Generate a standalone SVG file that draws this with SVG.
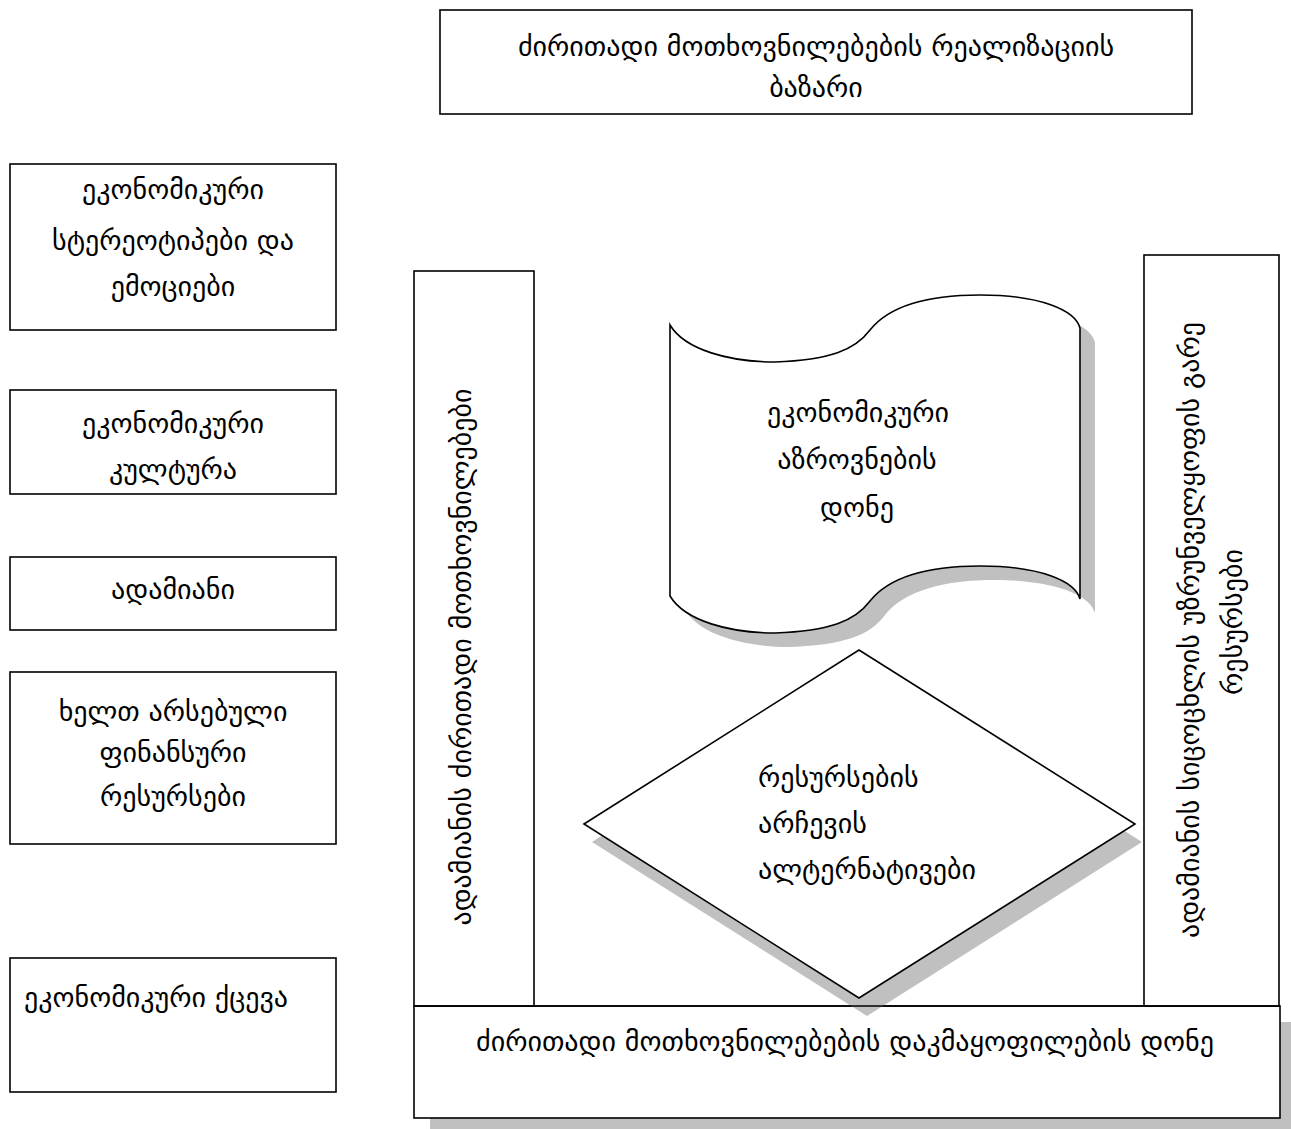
<svg xmlns="http://www.w3.org/2000/svg" width="1291" height="1129" viewBox="0 0 1291 1129">
  <style>
    .box { fill: #ffffff; stroke: #000000; stroke-width: 1.6; }
    .edge { fill: none; stroke: #000000; stroke-width: 1.6; }
    .shadow { fill: #c0c0c0; stroke: none; }
    .t { font-family: "DejaVu Sans", "Noto Sans", sans-serif; font-size: 28px; fill: #000000; }
    .c { text-anchor: middle; }
  </style>
  <rect width="1291" height="1129" fill="#ffffff"/>

  <!-- market box at the top -->
  <g id="market">
    <rect class="box" x="440" y="10" width="752" height="104"/>
    <text class="t c" x="816" y="56">ძირითადი მოთხოვნილებების რეალიზაციის</text>
    <text class="t c" x="816" y="97">ბაზარი</text>
  </g>

  <!-- left column of factors -->
  <g id="stereotypes">
    <rect class="box" x="10" y="164" width="326" height="166"/>
    <text class="t c" x="173" y="199">ეკონომიკური</text>
    <text class="t c" x="173" y="250">სტერეოტიპები და</text>
    <text class="t c" x="173" y="296">ემოციები</text>
  </g>
  <g id="culture">
    <rect class="box" x="10" y="390" width="326" height="104"/>
    <text class="t c" x="173" y="433">ეკონომიკური</text>
    <text class="t c" x="173" y="479">კულტურა</text>
  </g>
  <g id="person">
    <rect class="box" x="10" y="557" width="326" height="73"/>
    <text class="t c" x="173" y="599">ადამიანი</text>
  </g>
  <g id="finance">
    <rect class="box" x="10" y="672" width="326" height="172"/>
    <text class="t c" x="173" y="721">ხელთ არსებული</text>
    <text class="t c" x="173" y="762">ფინანსური</text>
    <text class="t c" x="173" y="806">რესურსები</text>
  </g>
  <g id="behaviour">
    <rect class="box" x="10" y="958" width="326" height="134"/>
    <text class="t" x="24" y="1007">ეკონომიკური ქცევა</text>
  </g>

  <!-- satisfaction level box along the bottom -->
  <g id="satisfaction">
    <rect class="shadow" x="430" y="1022" width="866" height="112"/>
    <rect class="box" x="414" y="1006" width="866" height="112"/>
    <text class="t c" x="845" y="1051">ძირითადი მოთხოვნილებების დაკმაყოფილების დონე</text>
  </g>

  <!-- vertical needs column -->
  <g id="needs">
    <rect class="box" x="414" y="271" width="120" height="735"/>
    <text class="t c" transform="translate(471,657) rotate(-90)">ადამიანის ძირითადი მოთხოვნილებები</text>
  </g>

  <!-- vertical external resources column -->
  <g id="resources">
    <rect class="box" x="1144" y="255" width="135" height="751"/>
    <text class="t c" transform="translate(1199,630) rotate(-90)">ადამიანის სიცოცხლის უზრუნველყოფის გარე</text>
    <text class="t c" transform="translate(1242,622) rotate(-90)">რესურსები</text>
  </g>

  <!-- wavy document: level of economic thinking -->
  <g id="thinking">
    <path class="shadow" transform="translate(15,14)" d="M670,325 C685,350 730,362 775,362 C830,360 855,350 870,330 C890,305 930,295 980,295 C1040,295 1075,310 1080,328 L1080,599 C1075,581 1040,566 980,566 C930,566 890,576 870,601 C855,621 830,631 775,633 C730,633 685,621 670,596 Z"/>
    <path class="box" d="M670,325 C685,350 730,362 775,362 C830,360 855,350 870,330 C890,305 930,295 980,295 C1040,295 1075,310 1080,328 L1080,599 C1075,581 1040,566 980,566 C930,566 890,576 870,601 C855,621 830,631 775,633 C730,633 685,621 670,596 Z"/>
    <text class="t c" x="858" y="422">ეკონომიკური</text>
    <text class="t c" x="857" y="469">აზროვნების</text>
    <text class="t c" x="857" y="517">დონე</text>
  </g>

  <!-- diamond: alternatives of resource choice -->
  <g id="alternatives">
    <polygon class="shadow" points="592,842 867,668 1142,842 867,1016"/>
    <polygon class="box" points="584,824 859,650 1135,824 859,998"/>
    <text class="t" x="758" y="787">რესურსების</text>
    <text class="t" x="758" y="833">არჩევის</text>
    <text class="t" x="758" y="879">ალტერნატივები</text>
  </g>

  <!-- outline of the bottom box kept above the diamond shadow -->
  <g id="connectors">
    <line class="edge" x1="414" y1="1006" x2="1280" y2="1006"/>
  </g>
</svg>
